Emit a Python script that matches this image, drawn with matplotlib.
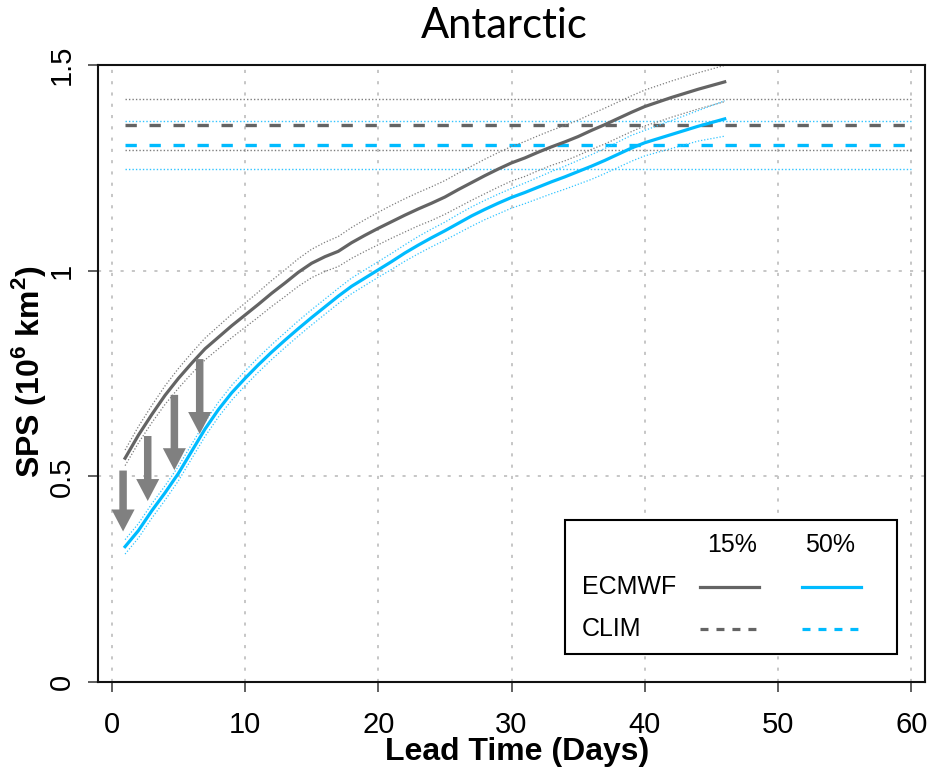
import matplotlib
matplotlib.use('Agg')
import matplotlib.pyplot as plt
from matplotlib.lines import Line2D
from matplotlib.patches import Rectangle

plt.rcParams['font.family'] = ['Liberation Sans', 'DejaVu Sans']
plt.rcParams['mathtext.fontset'] = 'custom'
plt.rcParams['mathtext.rm'] = 'Liberation Sans'
plt.rcParams['mathtext.bf'] = 'Liberation Sans:bold'

# lead time (days)
days = list(range(1, 47))

# ECMWF, 15% threshold (gray) with its upper / lower bounds
ecmwf_15 = [0.544, 0.600, 0.650, 0.697, 0.738, 0.775, 0.810, 0.838, 0.866, 0.892,
            0.918, 0.945, 0.970, 0.996, 1.018, 1.034, 1.047, 1.068, 1.086, 1.103,
            1.119, 1.135, 1.150, 1.164, 1.179, 1.197, 1.214, 1.231, 1.247, 1.262,
            1.274, 1.288, 1.301, 1.313, 1.326, 1.341, 1.355, 1.370, 1.385, 1.399,
            1.410, 1.421, 1.431, 1.441, 1.450, 1.459]
ecmwf_15_hi = [0.564, 0.621, 0.672, 0.720, 0.762, 0.800, 0.836, 0.865, 0.894, 0.921,
               0.948, 0.976, 1.002, 1.029, 1.052, 1.069, 1.083, 1.105, 1.124, 1.142,
               1.159, 1.175, 1.190, 1.204, 1.219, 1.237, 1.254, 1.271, 1.287, 1.302,
               1.314, 1.328, 1.341, 1.353, 1.366, 1.381, 1.395, 1.410, 1.425, 1.439,
               1.450, 1.461, 1.471, 1.481, 1.490, 1.499]
ecmwf_15_lo = [0.526, 0.581, 0.630, 0.675, 0.714, 0.750, 0.783, 0.810, 0.837, 0.862,
               0.887, 0.913, 0.937, 0.962, 0.983, 0.998, 1.010, 1.030, 1.047, 1.063,
               1.079, 1.094, 1.109, 1.122, 1.137, 1.154, 1.171, 1.187, 1.203, 1.218,
               1.229, 1.243, 1.256, 1.267, 1.280, 1.295, 1.308, 1.323, 1.338, 1.352,
               1.362, 1.373, 1.383, 1.393, 1.402, 1.411]

# ECMWF, 50% threshold (blue)
ecmwf_50 = [0.329, 0.368, 0.416, 0.460, 0.507, 0.561, 0.615, 0.662, 0.703, 0.738,
            0.771, 0.802, 0.831, 0.859, 0.886, 0.912, 0.938, 0.962, 0.982, 1.002,
            1.022, 1.043, 1.062, 1.080, 1.097, 1.115, 1.133, 1.149, 1.164, 1.178,
            1.190, 1.203, 1.216, 1.228, 1.241, 1.254, 1.268, 1.283, 1.298, 1.311,
            1.321, 1.331, 1.341, 1.351, 1.360, 1.369]
ecmwf_50_hi = [0.346, 0.385, 0.433, 0.477, 0.524, 0.578, 0.632, 0.680, 0.721, 0.756,
               0.789, 0.820, 0.849, 0.878, 0.905, 0.931, 0.957, 0.982, 1.002, 1.022,
               1.042, 1.063, 1.083, 1.101, 1.118, 1.137, 1.155, 1.171, 1.186, 1.200,
               1.213, 1.227, 1.241, 1.254, 1.268, 1.282, 1.297, 1.313, 1.329, 1.341,
               1.353, 1.365, 1.377, 1.389, 1.401, 1.413]
ecmwf_50_lo = [0.311, 0.350, 0.398, 0.442, 0.489, 0.543, 0.597, 0.644, 0.685, 0.720,
               0.753, 0.784, 0.813, 0.841, 0.868, 0.894, 0.920, 0.944, 0.964, 0.984,
               1.003, 1.023, 1.041, 1.058, 1.074, 1.091, 1.108, 1.124, 1.138, 1.152,
               1.163, 1.175, 1.187, 1.198, 1.210, 1.222, 1.236, 1.251, 1.266, 1.279,
               1.288, 1.297, 1.306, 1.315, 1.321, 1.327]

# climatology levels: [mean, upper, lower]
clim_15 = [1.354, 1.417, 1.294]
clim_50 = [1.306, 1.365, 1.246]
clim_days = [1, 60]

# arrows (day, start value, tip value)
arrow_day = [0.85, 2.7, 4.7, 6.6]
arrow_top = [0.514, 0.598, 0.698, 0.785]
arrow_tip = [0.366, 0.440, 0.515, 0.603]

xticks = [0, 10, 20, 30, 40, 50, 60]
yticks = [0, 0.5, 1, 1.5]
ytick_labels = ['0', '0.5', '1', '1.5']

gray = '#646464'
blue = '#00bbff'
gray_thin = '#7d7d7d'
blue_thin = '#30c4ff'

fig = plt.figure(figsize=(9.3, 7.72), dpi=100)
ax = fig.add_axes([0.1054, 0.1166, 0.8892, 0.7992])

# grid
ax.set_xticks(xticks)
ax.set_yticks(yticks)
ax.set_yticklabels(ytick_labels)
ax.grid(True, color='#c6c6c6', lw=1.4, linestyle=(0, (1.6, 4.2)))
ax.set_axisbelow(True)

# climatology
ax.hlines(clim_15[0], clim_days[0], clim_days[1], color=gray, lw=2.4, linestyle=(0, (3.4, 3.8)))
ax.hlines(clim_50[0], clim_days[0], clim_days[1], color=blue, lw=2.4, linestyle=(0, (3.4, 3.8)))
for v in clim_15[1:]:
    ax.hlines(v, clim_days[0], clim_days[1], color=gray_thin, lw=1.0, linestyle=(0, (1, 1.5)))
for v in clim_50[1:]:
    ax.hlines(v, clim_days[0], clim_days[1], color=blue_thin, lw=1.0, linestyle=(0, (1, 1.5)))

# forecasts
ax.plot(days, ecmwf_15_hi, color=gray_thin, lw=0.9, linestyle=(0, (1, 1.5)))
ax.plot(days, ecmwf_15_lo, color=gray_thin, lw=0.9, linestyle=(0, (1, 1.5)))
ax.plot(days, ecmwf_50_hi, color=blue_thin, lw=0.9, linestyle=(0, (1, 1.5)))
ax.plot(days, ecmwf_50_lo, color=blue_thin, lw=0.9, linestyle=(0, (1, 1.5)))
ax.plot(days, ecmwf_15, color=gray, lw=2.3)
ax.plot(days, ecmwf_50, color=blue, lw=2.3)

# arrows
for d, t0, t1 in zip(arrow_day, arrow_top, arrow_tip):
    ax.annotate('', xy=(d, t1), xytext=(d, t0),
                arrowprops=dict(arrowstyle='simple,head_length=1.58,head_width=1.66,tail_width=0.54',
                                mutation_scale=10, color='#808080', lw=0,
                                shrinkA=0, shrinkB=0))

ax.set_xlim(-1.03, 61.03)
ax.set_ylim(0, 1.5)

for s in ax.spines.values():
    s.set_linewidth(1.5)
    s.set_color('#111111')

ax.tick_params(axis='x', length=7.2, width=1.2, pad=14, labelsize=21, color='#444444')
ax.tick_params(axis='y', length=7.2, width=1.2, pad=9, labelsize=21, color='#444444')
for lab in ax.get_yticklabels():
    lab.set_rotation(90)
    lab.set_va('center')

# legend drawn by hand
ax.add_patch(Rectangle((0.565, 0.045), 0.401, 0.218, transform=ax.transAxes,
                       facecolor='white', edgecolor='black', lw=1.5, zorder=5))
ax.text(0.767, 0.222, '15%', transform=ax.transAxes, fontsize=18, ha='center', va='center', zorder=6)
ax.text(0.885, 0.222, '50%', transform=ax.transAxes, fontsize=18, ha='center', va='center', zorder=6)
ax.text(0.585, 0.154, 'ECMWF', transform=ax.transAxes, fontsize=18, ha='left', va='center', zorder=6)
ax.text(0.585, 0.086, 'CLIM', transform=ax.transAxes, fontsize=18, ha='left', va='center', zorder=6)
ax.add_line(Line2D([0.728, 0.799], [0.154, 0.154], transform=ax.transAxes, color=gray, lw=2.3, zorder=6))
ax.add_line(Line2D([0.851, 0.923], [0.154, 0.154], transform=ax.transAxes, color=blue, lw=2.3, zorder=6))
ax.add_line(Line2D([0.728, 0.797], [0.086, 0.086], transform=ax.transAxes, color=gray, lw=2.3,
                   linestyle=(0, (2.5, 2.5)), zorder=6))
ax.add_line(Line2D([0.851, 0.920], [0.086, 0.086], transform=ax.transAxes, color=blue, lw=2.3,
                   linestyle=(0, (2.5, 2.5)), zorder=6))

# title and axis labels
fig.text(504 / 930, 1 - 38 / 772, 'Antarctic', family='Lato', fontsize=30, ha='center', va='baseline')
fig.text(517 / 930, 1 - 752 / 772, 'Lead Time (Days)', fontsize=23, fontweight='bold',
         ha='center', va='center')
fig.text(28 / 930, 1 - 372 / 772, r'SPS (10$^{\mathbf{6}}$ km$^{\mathbf{2}}$)', fontsize=23,
         fontweight='bold', rotation=90, ha='center', va='center')

fig.savefig('out.png', dpi=100)
